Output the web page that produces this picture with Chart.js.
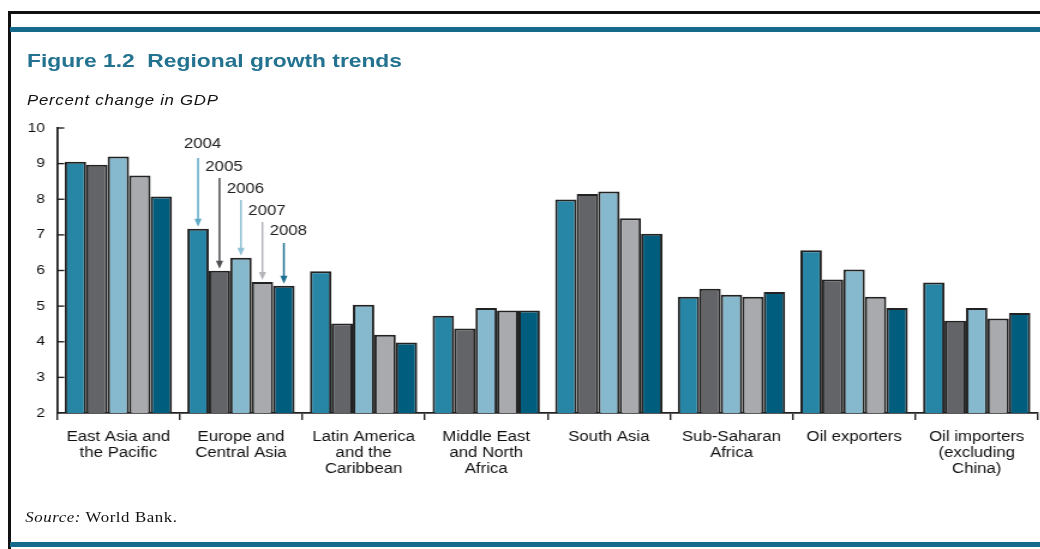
<!DOCTYPE html>
<html>
<head>
<meta charset="utf-8">
<script src="https://cdn.jsdelivr.net/npm/chart.js@4.4.0/dist/chart.umd.min.js"></script>
<style>
  html, body { margin: 0; padding: 0; background: #fff; }
  body { width: 1040px; height: 549px; position: relative; overflow: hidden; }
  .line { position: absolute; }
  #wrap { position: absolute; left: 0; top: 0; width: 867px; height: 549px; transform: scaleX(1.2); transform-origin: 0 0; }
  .txt { position: absolute; white-space: nowrap; }
  #title { left: 22.5px; top: 50.6px; font: bold 19px/19px "Liberation Sans", Arial, sans-serif; color: #23728f; }
  #subtitle { left: 22.5px; top: 92.5px; font: italic 14px/14px "Liberation Sans", Arial, sans-serif; color: #111; letter-spacing: 0.6px; }
  #source { left: 21px; top: 511px; font: 14px/14px "Liberation Serif", "Times New Roman", serif; color: #111; letter-spacing: 0.5px; }
  #chart { position: absolute; left: 0; top: 0; }
</style>
</head>
<body>
<div class="line" style="left:8px;top:11px;width:1032px;height:2.5px;background:#111;"></div>
<div class="line" style="left:8px;top:11px;width:2.5px;height:538px;background:#111;"></div>
<div class="line" style="left:10px;top:27px;width:1030px;height:5px;background:#15698a;"></div>
<div class="line" style="left:10px;top:542px;width:1030px;height:5px;background:#15698a;"></div>
<div id="wrap">
  <div id="title" class="txt">Figure 1.2&nbsp; Regional growth trends</div>
  <div id="subtitle" class="txt">Percent change in GDP</div>
  <div id="source" class="txt"><i>Source:</i> World Bank.</div>
  <canvas id="chart" width="867" height="549"></canvas>
</div>
<script>
// ---- data ----
const categories = [
  ["East Asia and", "the Pacific"],
  ["Europe and", "Central Asia"],
  ["Latin America", "and the", "Caribbean"],
  ["Middle East", "and North", "Africa"],
  ["South Asia"],
  ["Sub-Saharan", "Africa"],
  ["Oil exporters"],
  ["Oil importers", "(excluding", "China)"]
];
const years = ["2004", "2005", "2006", "2007", "2008"];
const y2004 = [9.05, 7.17, 5.98, 4.73, 7.99, 5.26, 6.57, 5.66];
const y2005 = [8.97, 5.99, 4.51, 4.37, 8.15, 5.49, 5.75, 4.59];
const y2006 = [9.20, 6.36, 5.04, 4.95, 8.22, 5.32, 6.03, 4.95];
const y2007 = [8.67, 5.68, 4.20, 4.88, 7.47, 5.26, 5.26, 4.65];
const y2008 = [8.08, 5.57, 3.98, 4.88, 7.03, 5.40, 4.95, 4.81];
const yTicks = [2, 3, 4, 5, 6, 7, 8, 9, 10];

// ---- styles ----
const barColors = ["#2785a6", "#636467", "#86b9cd", "#a8aaad", "#015d7e"];
const arrowColors = ["#5eaac7", "#4e4f52", "#8fc1d4", "#b3b5b8", "#1b6e90"];
const annotCategory = 1;
const arrowStartY = [158, 178, 200, 222, 243];
const labelY = [144, 167, 189, 211, 231];

const series = [y2004, y2005, y2006, y2007, y2008];

const yInnerTicks = {
  id: 'yInnerTicks',
  beforeDatasetsDraw(chart) {
    const ctx = chart.ctx, y = chart.scales.y, left = chart.chartArea.left;
    ctx.save();
    ctx.strokeStyle = '#222';
    ctx.lineWidth = 1.4;
    yTicks.forEach(v => {
      if (v === yTicks[0]) return;
      const py = y.getPixelForValue(v);
      ctx.beginPath();
      ctx.moveTo(left, py);
      ctx.lineTo(left + 6, py);
      ctx.stroke();
    });
    ctx.restore();
  }
};

const arrows = {
  id: 'arrows',
  afterDatasetsDraw(chart) {
    const ctx = chart.ctx;
    ctx.save();
    years.forEach((yr, i) => {
      const bar = chart.getDatasetMeta(i).data[annotCategory];
      const x = bar.x;
      const tip = bar.y - 2;
      const head = 8;
      ctx.strokeStyle = arrowColors[i];
      ctx.fillStyle = arrowColors[i];
      ctx.lineWidth = 1.5;
      ctx.beginPath();
      ctx.moveTo(x, arrowStartY[i]);
      ctx.lineTo(x, tip - head + 1);
      ctx.stroke();
      ctx.beginPath();
      ctx.moveTo(x - 3, tip - head);
      ctx.lineTo(x + 3, tip - head);
      ctx.lineTo(x, tip);
      ctx.closePath();
      ctx.fill();
      ctx.fillStyle = '#222';
      ctx.font = '14px "Liberation Sans", Arial, sans-serif';
      ctx.textAlign = 'center';
      ctx.textBaseline = 'middle';
      ctx.fillText(yr, x + 3.75, labelY[i]);
    });
    ctx.restore();
  }
};

new Chart(document.getElementById('chart'), {
  type: 'bar',
  data: {
    labels: categories,
    datasets: years.map((yr, i) => ({
      label: yr,
      data: series[i],
      backgroundColor: barColors[i],
      borderColor: '#222',
      borderWidth: 2,
      borderSkipped: 'bottom',
      categoryPercentage: 0.875,
      barPercentage: 1.0
    }))
  },
  options: {
    responsive: false,
    animation: false,
    devicePixelRatio: 1,
    layout: { padding: { left: 17.5, right: 2, top: 128, bottom: 16 } },
    plugins: { legend: { display: false }, tooltip: { enabled: false }, title: { display: false } },
    scales: {
      x: {
        offset: true,
        grid: { display: true, drawOnChartArea: false, drawTicks: true, tickLength: 7, color: '#222', lineWidth: 1.4, offset: true },
        border: { display: true, color: '#222', width: 1.8 },
        ticks: {
          color: '#111',
          padding: 9,
          maxRotation: 0,
          autoSkip: false,
          font: { family: '"Liberation Sans", Arial, sans-serif', size: 14, lineHeight: 1.143 }
        },
        afterFit(scale) { scale.height = 120; }
      },
      y: {
        min: 2,
        max: 10,
        afterBuildTicks(scale) { scale.ticks = yTicks.map(v => ({ value: v })); },
        grid: { display: false, drawTicks: false },
        border: { display: true, color: '#222', width: 1.8 },
        ticks: {
          color: '#111',
          padding: 10,
          font: { family: '"Liberation Sans", Arial, sans-serif', size: 13 }
        },
        afterFit(scale) { scale.width = 30; }
      }
    }
  },
  plugins: [yInnerTicks, arrows]
});
</script>
</body>
</html>
